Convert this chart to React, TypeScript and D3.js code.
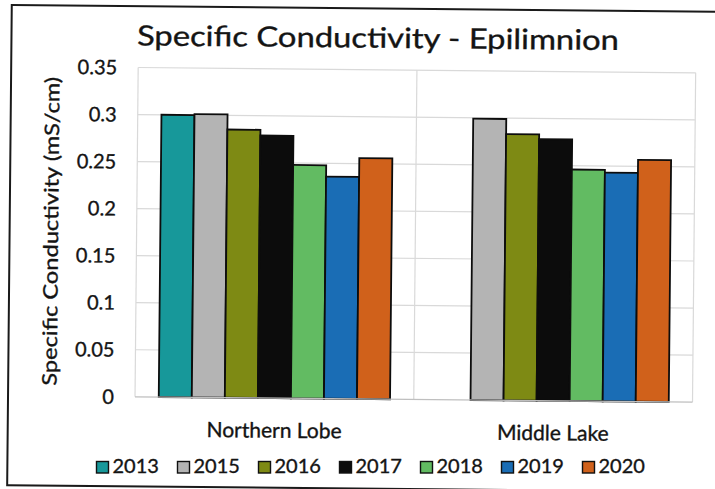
import React from "react";
import * as d3 from "d3";

// Sites on the x axis
const categories = ["Northern Lobe", "Middle Lake"];
// Sampling years (one bar each per site)
const years = ["2013", "2015", "2016", "2017", "2018", "2019", "2020"];
// Epilimnion specific conductivity, mS/cm (null = not sampled)
const northernLobe: (number | null)[] = [0.3, 0.301, 0.285, 0.279, 0.248, 0.236, 0.256];
const middleLake: (number | null)[] = [null, 0.299, 0.283, 0.278, 0.246, 0.243, 0.257];
// Axis ticks
const yTicks = [0, 0.05, 0.1, 0.15, 0.2, 0.25, 0.3, 0.35];
const yTickLabels = ["0", "0.05", "0.1", "0.15", "0.2", "0.25", "0.3", "0.35"];
// Year colours
const yearColors = ["#17989a", "#b4b4b4", "#7e8a14", "#0c0c0c", "#62bb62", "#1a6db5", "#d0611b"];

const seriesByCategory = [northernLobe, middleLake];

const W = 715;
const H = 489;
const FONT = "Lato, 'Open Sans', sans-serif";
const INK = "#141414";
// slight outline to give the text a heavier weight
const textInk = { fill: INK, stroke: INK, strokeWidth: 0.35 };

const plot = { left: 136.5, right: 694, top: 69.6, bottom: 398.9 };

export default function App() {
  const x0 = d3
    .scaleBand<string>()
    .domain(categories)
    .range([plot.left, plot.right])
    .paddingInner(0)
    .paddingOuter(0);
  const x1 = d3
    .scaleBand<string>()
    .domain(years)
    .range([0, x0.bandwidth()])
    .paddingInner(0)
    .paddingOuter(0.718);
  const y = d3.scaleLinear().domain([0, 0.35]).range([plot.bottom, plot.top]);
  const color = d3.scaleOrdinal<string, string>().domain(years).range(yearColors);

  const legendX = (i: number) => 96 + 81 * i;

  return (
    <svg
      width={W}
      height={H}
      style={{ position: "absolute", left: 0, top: 0, background: "#fff" }}
    >
      <rect x={0} y={0} width={W} height={H} fill="#fff" />
      <g transform="rotate(0.55 357 244)">
        {/* chart frame (right edge runs past the page) */}
        <rect x={9.5} y={8.3} width={780} height={480.2} fill="none" stroke="#1a1a1a" strokeWidth={2} />

        {/* horizontal gridlines */}
        {yTicks.map((t) =>
          t === 0 ? null : (
            <line key={t} x1={plot.left} x2={plot.right} y1={y(t)} y2={y(t)} stroke="#d9d9d9" strokeWidth={1.2} />
          )
        )}
        {/* category separators */}
        {[plot.left, ...categories.map((c) => (x0(c) as number) + x0.bandwidth())].map((xv, i) => (
          <line key={i} x1={xv} x2={xv} y1={plot.top} y2={plot.bottom} stroke="#d9d9d9" strokeWidth={1.2} />
        ))}

        {/* bars */}
        {categories.map((c, ci) =>
          years.map((yr, yi) => {
            const v = seriesByCategory[ci][yi];
            if (v == null) return null;
            const bx = (x0(c) as number) + (x1(yr) as number);
            return (
              <rect
                key={c + yr}
                x={bx}
                y={y(v)}
                width={x1.bandwidth()}
                height={y(0) - y(v)}
                fill={color(yr)}
                stroke="#0d0d0d"
                strokeWidth={1.8}
              />
            );
          })
        )}

        {/* baseline */}
        <line x1={plot.left} x2={plot.right} y1={y(0)} y2={y(0)} stroke="#bfbfbf" strokeWidth={1.3} />

        {/* y tick labels */}
        {yTicks.map((t, i) => (
          <text
            key={t}
            x={115.5}
            y={y(t) + 7.2}
            textAnchor="end"
            fontFamily={FONT}
            fontSize={20}
            {...textInk}
          >
            {yTickLabels[i]}
          </text>
        ))}

        {/* category labels */}
        {categories.map((c) => (
          <text
            key={c}
            x={(x0(c) as number) + x0.bandwidth() / 2}
            y={438.5}
            textAnchor="middle"
            fontFamily={FONT}
            fontSize={21}
            {...textInk}
          >
            {c}
          </text>
        ))}

        {/* y axis title */}
        <text
          transform={`translate(58,${(plot.top + plot.bottom) / 2}) rotate(-90)`}
          textAnchor="middle"
          fontFamily={FONT}
          fontSize={20}
          textLength={309}
          lengthAdjust="spacingAndGlyphs"
          {...textInk}
        >
          Specific Conductivity (mS/cm)
        </text>

        {/* title */}
        <text
          x={376}
          y={47.5}
          textAnchor="middle"
          fontFamily={FONT}
          fontSize={28}
          textLength={482}
          lengthAdjust="spacingAndGlyphs"
          {...textInk}
        >
          Specific Conductivity - Epilimnion
        </text>
      </g>

      {/* legend */}
      {years.map((yr, i) => (
        <g key={yr}>
          <rect
            x={legendX(i) + 0.5}
            y={461.5}
            width={12}
            height={11.5}
            fill={color(yr)}
            stroke="#111"
            strokeWidth={1.4}
          />
          <text x={legendX(i) + 16.5} y={473} fontFamily={FONT} fontSize={20} {...textInk}>
            {yr}
          </text>
        </g>
      ))}
    </svg>
  );
}
